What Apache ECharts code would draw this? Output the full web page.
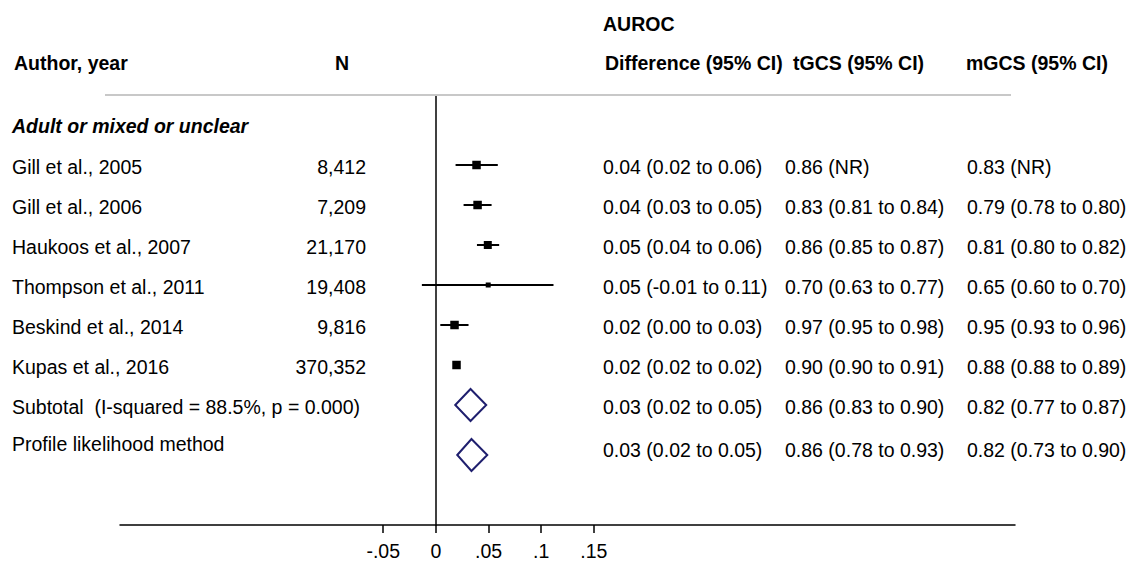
<!DOCTYPE html>
<html>
<head>
<meta charset="utf-8">
<script src="https://cdn.jsdelivr.net/npm/echarts@6/dist/echarts.min.js"></script>
<style>
html,body{margin:0;padding:0;background:#fff;}
#chart{width:1128px;height:561px;}
</style>
</head>
<body>
<div id="chart"></div>
<script>
// ---- data ----
const authors = ['Gill et al., 2005','Gill et al., 2006','Haukoos et al., 2007','Thompson et al., 2011','Beskind et al., 2014','Kupas et al., 2016'];
const nValues = ['8,412','7,209','21,170','19,408','9,816','370,352'];
const estimates = [0.0386, 0.0396, 0.0493, 0.0497, 0.0177, 0.0196];
const lowerCI = [0.0187, 0.0263, 0.0390, -0.0133, 0.0042, 0.0186];
const upperCI = [0.0588, 0.0529, 0.0601, 0.1117, 0.0310, 0.0206];
const weights = [8.5, 8.5, 8, 5, 8.5, 8.5];
const pooledLabels = ['Subtotal  (I-squared = 88.5%, p = 0.000)','Profile likelihood method'];
const pooledEst = [0.0329, 0.0338];
const pooledLower = [0.0184, 0.0203];
const pooledUpper = [0.0478, 0.0488];
const diffText = ['0.04 (0.02 to 0.06)','0.04 (0.03 to 0.05)','0.05 (0.04 to 0.06)','0.05 (-0.01 to 0.11)','0.02 (0.00 to 0.03)','0.02 (0.02 to 0.02)','0.03 (0.02 to 0.05)','0.03 (0.02 to 0.05)'];
const tgcsText = ['0.86 (NR)','0.83 (0.81 to 0.84)','0.86 (0.85 to 0.87)','0.70 (0.63 to 0.77)','0.97 (0.95 to 0.98)','0.90 (0.90 to 0.91)','0.86 (0.83 to 0.90)','0.86 (0.78 to 0.93)'];
const mgcsText = ['0.83 (NR)','0.79 (0.78 to 0.80)','0.81 (0.80 to 0.82)','0.65 (0.60 to 0.70)','0.95 (0.93 to 0.96)','0.88 (0.88 to 0.89)','0.82 (0.77 to 0.87)','0.82 (0.73 to 0.90)'];
const groupLabel = 'Adult or mixed or unclear';
const tickValues = [-0.05, 0, 0.05, 0.1, 0.15];
const tickLabels = ['-.05','0','.05','.1','.15'];

// ---- layout ----
const FONT = '"Liberation Sans", Arial, sans-serif';
const FS = 19.5;
function rowOf(i){ return i < 7 ? i : i + 0.25; }

const studyData = authors.map((a,i)=>[lowerCI[i], upperCI[i], estimates[i], rowOf(i), weights[i]]);
const pooledData = pooledLabels.map((l,i)=>[pooledLower[i], pooledUpper[i], pooledEst[i], rowOf(6+i)]);
const labelsAll = authors.concat(pooledLabels);
const textData = labelsAll.map((l,i)=>[0, rowOf(i), i]);

const chart = echarts.init(document.getElementById('chart'), null, {renderer:'svg'});
const bold = 'bold '+FS+'px '+FONT;
function hdr(text, x, y){ return {type:'text', x:x, y:y, style:{text:text, font:bold, fill:'#000', verticalAlign:'middle', textVerticalAlign:'middle'}}; }
const option = {
  animation:false,
  backgroundColor:'#fff',
  grid:{left:120, right:113, top:95, bottom:35, containLabel:false},
  xAxis:{
    type:'value', min:-0.3, max:0.55, interval:0.05,
    splitLine:{show:false},
    axisLine:{show:true, onZero:false, lineStyle:{color:'#000', width:1.5}},
    axisTick:{show:true, customValues:tickValues, length:8, lineStyle:{color:'#000', width:1.5}},
    axisLabel:{customValues:tickValues, color:'#000', fontFamily:FONT, fontSize:FS, margin:16,
      formatter:function(v){ const k = tickValues.findIndex(t=>Math.abs(t-v)<1e-9); return k>=0?tickLabels[k]:''; }}
  },
  yAxis:{
    type:'value', inverse:true, min:-1.75, max:9,
    splitLine:{show:false}, axisTick:{show:false}, axisLabel:{show:false},
    axisLine:{show:true, onZero:true, lineStyle:{color:'#000', width:1.5}}
  },
  graphic:[
    {type:'line', shape:{x1:105,y1:95,x2:1011,y2:95}, style:{stroke:'#c8c8c8', lineWidth:2}, z:1},
    hdr('Author, year', 14, 63),
    hdr('N', 335, 63),
    hdr('AUROC', 603, 24),
    hdr('Difference (95% CI)', 605, 63),
    hdr('tGCS (95% CI)', 793, 63),
    hdr('mGCS (95% CI)', 966, 63)
  ],
  series:[
    {
      type:'custom', clip:false, z:5,
      encode:{x:[0,1,2], y:3},
      data:studyData,
      renderItem:function(params, api){
        const y = api.value(3);
        const p1 = api.coord([api.value(0), y]);
        const p2 = api.coord([api.value(1), y]);
        const c = api.coord([api.value(2), y]);
        const s = api.value(4);
        return {type:'group', children:[
          {type:'line', shape:{x1:p1[0],y1:p1[1],x2:p2[0],y2:p2[1]}, style:{stroke:'#000', lineWidth:2}},
          {type:'rect', shape:{x:c[0]-s/2, y:c[1]-s/2, width:s, height:s}, style:{fill:'#000'}}
        ]};
      }
    },
    {
      type:'custom', clip:false, z:5,
      encode:{x:[0,1,2], y:3},
      data:pooledData,
      renderItem:function(params, api){
        const y = api.value(3);
        const l = api.coord([api.value(0), y]);
        const r = api.coord([api.value(1), y]);
        const c = api.coord([api.value(2), y]);
        const h = 16;
        return {type:'polygon', shape:{points:[[l[0],c[1]],[c[0],c[1]-h],[r[0],c[1]],[c[0],c[1]+h]]},
          style:{fill:'none', stroke:'#1f1f6e', lineWidth:2}};
      }
    },
    {
      type:'custom', clip:false, z:6, silent:true,
      encode:{y:1},
      data:textData,
      renderItem:function(params, api){
        const i = api.value(2);
        const yc = api.coord([0, api.value(1)])[1];
        const last = i === labelsAll.length - 1;
        const yl = last ? yc - 11 : yc + 2;
        const yv = last ? yc - 5 : yc + 2;
        const st = {font:FS+'px '+FONT, fill:'#000', textVerticalAlign:'middle', verticalAlign:'middle'};
        const ch = [
          {type:'text', x:12, y:yl, style:Object.assign({text:labelsAll[i], align:'left'}, st)},
          {type:'text', x:603, y:yv, style:Object.assign({text:diffText[i], align:'left'}, st)},
          {type:'text', x:785, y:yv, style:Object.assign({text:tgcsText[i], align:'left'}, st)},
          {type:'text', x:967, y:yv, style:Object.assign({text:mgcsText[i], align:'left'}, st)}
        ];
        if (i < nValues.length) ch.push({type:'text', x:366, y:yl, style:Object.assign({text:nValues[i], align:'right'}, st)});
        if (i === 0) {
          const gy = api.coord([0, -1])[1] + 1;
          ch.push({type:'text', x:12, y:gy, style:Object.assign({}, st, {text:groupLabel, align:'left', font:'italic bold '+FS+'px '+FONT})});
        }
        return {type:'group', children:ch};
      }
    }
  ]
};
chart.setOption(option);
</script>
</body>
</html>
